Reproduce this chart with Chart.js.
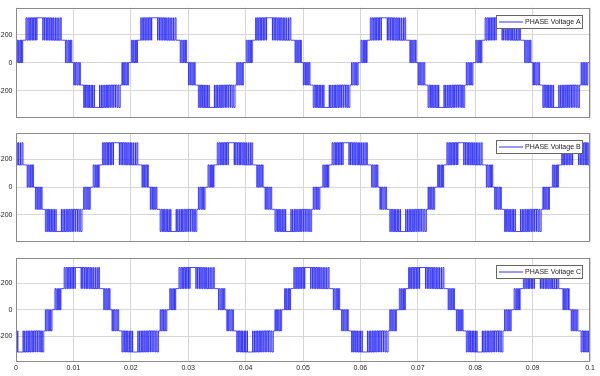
<!DOCTYPE html>
<html>
<head>
<meta charset="utf-8">
<script src="https://cdn.jsdelivr.net/npm/chart.js@4.4.0/dist/chart.umd.min.js"></script>
<style>
  body { margin: 0; background: #fff; }
  #wrap { position: relative; width: 600px; height: 376px; }
  canvas { position: absolute; left: 0; }
</style>
</head>
<body>
<div id="wrap">
  <canvas id="phaseA" width="600" height="125" style="top:0px"></canvas>
  <canvas id="phaseB" width="600" height="125" style="top:125px"></canvas>
  <canvas id="phaseC" width="600" height="126" style="top:250px"></canvas>
</div>
<script>
// Time axis (s)
const period = 0.02;
const tEnd = 0.1;
const xTicks = [0, 0.01, 0.02, 0.03, 0.04, 0.05, 0.06, 0.07, 0.08, 0.09, 0.1];
const yTicks = [-200, 0, 200];
const yMin = -388, yMax = 392;

// Phase names and their angle offset (deg) against phase A
const phaseNames = ['PHASE Voltage A', 'PHASE Voltage B', 'PHASE Voltage C'];
const phaseShiftDeg = [0, 120, 240];

const posHalfSwitches = [
  [0, 0], [2, 160], [5, 0], [8, 160], [10, 0], [13, 160], [15, 0], [17, 160], [19, 0], [21, 160],
  [31, 320], [34, 160], [37, 320], [40, 160], [42, 320], [45, 160], [47, 320], [50, 160], [51.5, 320],
  [55, 160], [56.5, 320], [60, 160], [61, 320], [65, 160], [65.8, 320],
  [84, 160], [85, 320], [89, 160], [90, 320], [94, 160], [95.5, 320], [99, 160], [101, 320],
  [104, 160], [106, 320], [109, 160], [111.5, 320], [114, 160], [117, 320], [119, 160], [122.5, 320],
  [124, 160], [128, 320], [129.5, 160], [134, 320], [135, 160], [139, 320], [142, 160],
  [155, 0], [157, 160], [160, 0], [163, 160], [165.5, 0], [168, 160], [171, 0], [172.5, 160], [175, 0]
];
const negHalfSwitches = [
  [181, -160], [183, 0], [186, -160], [188, 0], [191, -160], [194, 0], [197, -160], [199.5, 0], [202, -160],
  [212, -320], [215, -160], [218, -320], [220, -160], [222.5, -320], [225, -160], [227, -320],
  [230, -160], [231.5, -320], [235, -160], [236.5, -320], [240, -160], [241, -320], [245, -160], [246, -320],
  [262, -160], [263, -320], [267, -160], [268, -320], [272, -160], [273.5, -320], [277, -160], [279, -320],
  [282, -160], [284, -320], [287, -160], [289.5, -320], [292, -160], [295, -320], [297, -160], [300.5, -320],
  [302, -160], [306, -320], [307.5, -160], [312, -320], [313, -160], [317, -320], [320, -160], [323, -320],
  [327, -160], [332, 0], [334, -160], [337, 0], [340, -160], [342.5, 0], [345, -160], [348, 0], [350, -160], [353, 0]
];

const cycleSwitches = posHalfSwitches.concat(negHalfSwitches);

function levelAt(deg) {
  let lv = cycleSwitches[0][1];
  for (const [d, l] of cycleSwitches) {
    if (d <= deg) lv = l; else break;
  }
  return lv;
}

function buildSeries(shift) {
  const pts = [{ x: 0, y: levelAt(shift % 360) }];
  const cycles = Math.ceil(tEnd / period);
  for (let k = -1; k <= cycles + 1; k++) {
    for (const [d, l] of cycleSwitches) {
      const t = (k * 360 + d - shift) / 360 * period;
      if (t > 0 && t < tEnd) pts.push({ x: t, y: l });
    }
  }
  pts.sort((a, b) => a.x - b.x);
  pts.push({ x: tEnd, y: pts[pts.length - 1].y });
  return pts;
}

const gridColor = '#d6d6d6';
const frameColor = '#8a8a8a';
const tickFont = { family: 'Liberation Sans, Arial, sans-serif', size: 7 };

// frame round the plot area
const framePlugin = {
  id: 'frame',
  afterDatasetsDraw(chart) {
    const a = chart.chartArea, ctx = chart.ctx;
    ctx.save();
    ctx.strokeStyle = frameColor;
    ctx.lineWidth = 1;
    ctx.strokeRect(Math.round(a.left) + 0.5, Math.round(a.top) + 0.5,
      Math.round(a.right - a.left) - 1, Math.round(a.bottom - a.top));
    ctx.restore();
  }
};

// MATLAB style legend box in the top right corner
const boxLegend = {
  id: 'boxLegend',
  afterDraw(chart) {
    const a = chart.chartArea, ctx = chart.ctx;
    const w = 86, h = 13;
    const x = Math.round(a.right) - 8 - w, y = Math.round(a.top) + 7;
    ctx.save();
    ctx.fillStyle = '#fff';
    ctx.fillRect(x, y, w, h);
    ctx.strokeStyle = '#666';
    ctx.lineWidth = 1;
    ctx.strokeRect(x + 0.5, y + 0.5, w, h);
    ctx.strokeStyle = '#3333ff';
    ctx.beginPath();
    ctx.moveTo(x + 3, y + 7);
    ctx.lineTo(x + 27, y + 7);
    ctx.stroke();
    ctx.fillStyle = '#222';
    ctx.font = '7px "Liberation Sans", Arial, sans-serif';
    ctx.textBaseline = 'middle';
    ctx.fillText(chart.options.plugins.boxLegend.text, x + 29, y + 7.5);
    ctx.restore();
  }
};

function makePanel(id, idx, showX, padTop, padBottom, xHeight) {
  const ctx = document.getElementById(id).getContext('2d');
  new Chart(ctx, {
    type: 'line',
    data: {
      datasets: [{
        label: phaseNames[idx],
        data: buildSeries(phaseShiftDeg[idx]),
        borderColor: '#1f1fff',
        borderWidth: 0.8,
        pointRadius: 0,
        stepped: true,
        fill: false
      }]
    },
    options: {
      responsive: false,
      animation: false,
      events: [],
      layout: { padding: { top: padTop, bottom: padBottom, left: 0, right: 10 } },
      plugins: {
        legend: { display: false },
        tooltip: { enabled: false },
        boxLegend: { text: phaseNames[idx] }
      },
      scales: {
        x: {
          type: 'linear',
          min: 0,
          max: tEnd,
          afterBuildTicks: s => { s.ticks = xTicks.map(v => ({ value: v })); },
          afterFit: s => { s.height = xHeight; },
          border: { display: false },
          grid: { color: gridColor, drawTicks: false },
          ticks: {
            display: showX,
            autoSkip: false,
            maxRotation: 0,
            padding: 3,
            color: '#222',
            font: tickFont,
            callback: v => String(+v.toFixed(2))
          }
        },
        y: {
          min: yMin,
          max: yMax,
          afterBuildTicks: s => { s.ticks = yTicks.map(v => ({ value: v })); },
          afterFit: s => { s.width = 16; },
          border: { display: false },
          grid: { color: gridColor, drawTicks: false },
          ticks: { padding: 3.5, color: '#222', font: tickFont }
        }
      }
    },
    plugins: [framePlugin, boxLegend]
  });
}

makePanel('phaseA', 0, false, 5, 8, 0);
makePanel('phaseB', 1, false, 7, 9, 0);
makePanel('phaseC', 2, true, 8, 0, 15);
</script>
</body>
</html>
